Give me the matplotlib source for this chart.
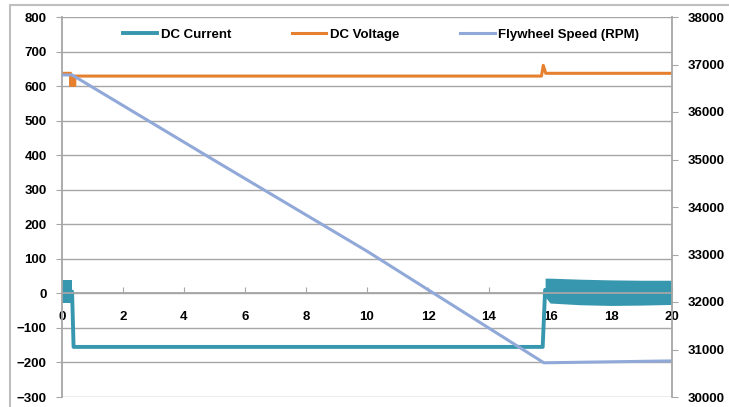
import matplotlib.pyplot as plt
from matplotlib.patches import Rectangle

plt.rcParams["font.family"] = ["Liberation Sans", "DejaVu Sans"]
plt.rcParams["font.size"] = 9.5
plt.rcParams["font.weight"] = "bold"

# DC current (A): mean trace plus the envelope of the ripple bands
cur_t = [0.0, 0.33, 0.38, 15.76, 15.84, 20.0]
cur_mid = [5, 5, -155, -155, 10, 3]
band1_t = [0.0, 0.33]
band1_hi = [40, 40]
band1_lo = [-28, -28]
band2_t = [15.84, 16.0, 17.0, 18.0, 19.0, 20.0]
band2_hi = [44, 44, 41, 39, 38, 38]
band2_lo = [-10, -28, -33, -35, -34, -32]

# DC voltage (V)
volt_t = [0.0, 0.28, 0.28, 0.42, 0.42, 15.72, 15.78, 15.86, 20.0]
volt_v = [637, 637, 602, 602, 629, 629, 660, 637, 637]
dip_t = [0.28, 0.42]
dip_lo = [602, 602]
dip_hi = [637, 629]

# flywheel speed (RPM)
rpm_t = [0.0, 0.33, 5.0, 10.0, 15.8, 20.0]
rpm_v = [36780, 36780, 34980, 33070, 30720, 30760]

c_cur = "#3797AE"
c_volt = "#E6802F"
c_rpm = "#91A9D8"
gray = "#A6A6A6"

fig = plt.figure(figsize=(7.29, 4.07), dpi=100)
ax = fig.add_axes([62 / 729, 10 / 407, 610 / 729, 380 / 407])
fig.patches.append(Rectangle((10 / 729, -0.05), 1.0, (407 - 5) / 407 + 0.05,
                             transform=fig.transFigure, fill=False,
                             edgecolor="#BFBFBF", lw=1.5))

ax.fill_between(band1_t, band1_lo, band1_hi, color=c_cur, lw=0)
ax.fill_between(band2_t, band2_lo, band2_hi, color=c_cur, lw=0)
l1, = ax.plot(cur_t, cur_mid, color=c_cur, lw=2.8, label="DC Current")
ax.fill_between(dip_t, dip_lo, dip_hi, color=c_volt, lw=0)
l2, = ax.plot(volt_t, volt_v, color=c_volt, lw=2.2, label="DC Voltage")

ax.set_xlim(0, 20)
ax.set_ylim(-300, 800)
ax.set_xticks(range(0, 21, 2))
ax.set_yticks(range(-300, 801, 100))
ax.grid(axis="y", color=gray, lw=1)
ax.set_axisbelow(True)
ax.spines["bottom"].set_position(("data", 0))
for s in ["top", "right"]:
    ax.spines[s].set_visible(False)
for s in ["left", "bottom"]:
    ax.spines[s].set_color(gray)
    ax.spines[s].set_linewidth(1.3)
ax.tick_params(axis="x", direction="in", length=4, color=gray, pad=13)
ax.tick_params(axis="y", direction="out", length=4, color=gray, pad=7)

ax2 = ax.twinx()
l3, = ax2.plot(rpm_t, rpm_v, color=c_rpm, lw=2.2, label="Flywheel Speed (RPM)")
ax2.set_ylim(30000, 38000)
ax2.set_yticks(range(30000, 38001, 1000))
for s in ["top", "left", "bottom"]:
    ax2.spines[s].set_visible(False)
ax2.spines["right"].set_color(gray)
ax2.spines["right"].set_linewidth(1.3)
ax2.tick_params(axis="y", direction="out", length=4, color=gray, pad=7)

ax2.legend(handles=[l1, l2, l3], loc="center", bbox_to_anchor=(0.523, 0.953),
           ncol=3, frameon=False, handlelength=2.6, handletextpad=0.3,
           columnspacing=4.6)

fig.savefig("out.png", dpi=100)
